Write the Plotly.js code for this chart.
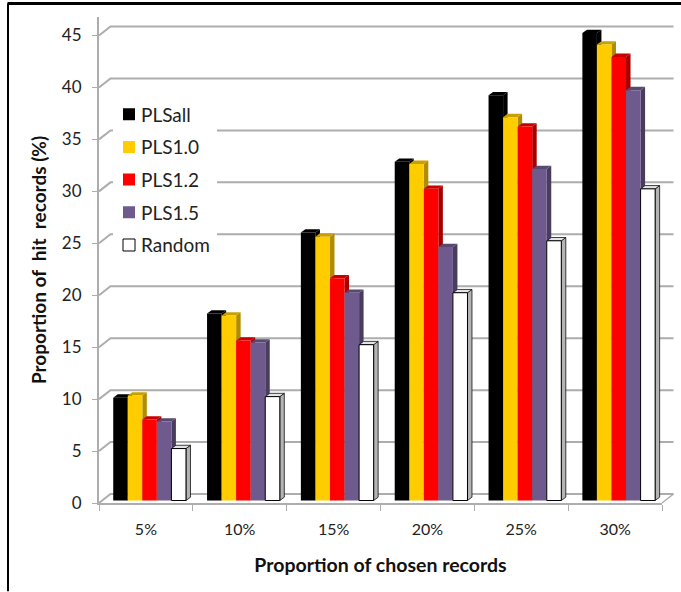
<!DOCTYPE html>
<html>
<head>
<meta charset="utf-8">
<script src="https://cdn.plot.ly/plotly-3.0.1.min.js"></script>
<style>html,body{margin:0;padding:0;background:#fff}</style>
</head>
<body>
<div id="chart" style="width:681px;height:592px"></div>
<script>
// Hit rate of each model at growing proportions of chosen records
const categories = ['5%', '10%', '15%', '20%', '25%', '30%'];
const plsAll = [9.9, 18, 25.8, 32.6, 39, 45];
const pls10 = [10.1, 17.8, 25.4, 32.4, 36.9, 43.9];
const pls12 = [7.8, 15.4, 21.4, 30, 36, 42.7];
const pls15 = [7.6, 15.2, 20, 24.4, 31.9, 39.5];
const random = [5, 10, 15, 20, 25, 30];
const yTicks = [0, 5, 10, 15, 20, 25, 30, 35, 40, 45];

const seriesNames = ['PLSall', 'PLS1.0', 'PLS1.2', 'PLS1.5', 'Random'];
const seriesValues = [plsAll, pls10, pls12, pls15, random];
const frontColors = ['#000000', '#ffcc00', '#ff0000', '#6f5a8e', '#ffffff'];
const topColors = ['#000000', '#c9a000', '#c80000', '#594870', '#e4e4e4'];
const sideColors = ['#000000', '#b08c00', '#a80000', '#4a3c5e', '#b4b4b4'];

// Plot box in page pixels, and the oblique depth of walls and columns
const box = {left: 99, right: 662, top: 16.5, bottom: 503.5};
const pxPerCategory = (box.right - box.left) / categories.length;
const pxPerUnit = 10.41;
const wallDx = 11.5, wallDy = 9;
const columnDx = 4.5 / pxPerCategory, columnDy = 3.3 / pxPerUnit;
const columnBase = 2.5 / pxPerUnit;
const columnWidth = 14.55 / pxPerCategory;
const firstOffset = -32.7 / pxPerCategory;

const px = x => (x - box.left) / (box.right - box.left);
const py = y => (box.bottom - y) / (box.bottom - box.top);
const gridColor = '#adadad';
const shapes = [];

function pagePath(points, color, width) {
  shapes.push({
    type: 'path', xref: 'paper', yref: 'paper', layer: 'below',
    path: 'M' + points.map(p => px(p[0]) + ',' + py(p[1])).join('L'),
    line: {color: color, width: width}
  });
}

// Frame: only the top and left rules are present
pagePath([[7.5, 3], [681, 3]], '#000', 3);
pagePath([[8, 3], [8, 592]], '#000', 2);

// Back wall lines with their slanted run along the side wall
yTicks.forEach(v => {
  const y = box.bottom - v * pxPerUnit;
  pagePath([[box.left, y], [box.left + wallDx, y - wallDy],
            [box.right + wallDx, y - wallDy]], gridColor, 2);
});
// Right edge of the floor
pagePath([[box.right, box.bottom], [box.right + wallDx, box.bottom - wallDy]], gridColor, 1.5);

// Side and top faces of each column, left to right so the fronts cover them
seriesValues.forEach((values, s) => {
  const outline = s === 4 ? {color: '#111', width: 0.8} : {width: 0};
  values.forEach((v, c) => {
    const x0 = c + firstOffset + s * columnWidth;
    const x1 = x0 + columnWidth;
    const y0 = columnBase, y1 = columnBase + v;
    const face = (pts, color) => shapes.push({
      type: 'path', xref: 'x', yref: 'y', layer: 'below',
      path: 'M' + pts.map(p => p[0] + ',' + p[1]).join('L') + 'Z',
      fillcolor: color, line: outline
    });
    face([[x1, y0], [x1 + columnDx, y0 + columnDy], [x1 + columnDx, y1 + columnDy], [x1, y1]], sideColors[s]);
    face([[x0, y1], [x0 + columnDx, y1 + columnDy], [x1 + columnDx, y1 + columnDy], [x1, y1]], topColors[s]);
  });
});

const traces = seriesNames.map((name, s) => ({
  type: 'bar',
  name: name,
  legendgroup: name,
  x: categories,
  y: seriesValues[s],
  base: columnBase,
  width: columnWidth,
  offset: firstOffset + s * columnWidth,
  marker: {
    color: frontColors[s],
    line: s === 4 ? {color: '#000', width: 1} : {width: 0}
  },
  hoverinfo: 'name+y'
}));

const fontFamily = 'Lato, "Open Sans", sans-serif';
const layout = {
  width: 681, height: 592,
  paper_bgcolor: '#fff', plot_bgcolor: 'rgba(0,0,0,0)',
  margin: {l: box.left, r: 681 - box.right, t: box.top, b: 592 - box.bottom, pad: 0},
  barmode: 'overlay',
  font: {family: fontFamily, color: '#222', size: 14},
  showlegend: true,
  legend: {
    x: px(113), y: py(95), xanchor: 'left', yanchor: 'top',
    bgcolor: '#fff', borderwidth: 0,
    tracegroupgap: 5,
    traceorder: 'grouped',
    font: {family: fontFamily, size: 19, color: '#222'}
  },
  xaxis: {
    type: 'category', categoryorder: 'array', categoryarray: categories,
    range: [-0.5, 5.5], tickson: 'boundaries',
    showline: true, linecolor: gridColor, linewidth: 2,
    ticks: 'outside', ticklen: 6, tickcolor: gridColor, tickwidth: 1,
    ticklabelstandoff: 11,
    showgrid: false, zeroline: false,
    tickfont: {size: 16, color: '#222'},
    title: {text: 'Proportion of chosen records', standoff: 21,
            font: {size: 19.5, color: '#111', family: fontFamily, weight: 'bold'}}
  },
  yaxis: {
    range: [0, (box.bottom - box.top) / pxPerUnit],
    tickmode: 'array', tickvals: yTicks, ticktext: yTicks.map(String),
    showline: true, linecolor: gridColor, linewidth: 2,
    ticks: 'outside', ticklen: 5, tickcolor: gridColor, tickwidth: 1,
    ticklabelstandoff: 7,
    showgrid: false, zeroline: false,
    tickfont: {size: 17, color: '#222'},
    title: {text: 'Proportion of  hit  records (%)', standoff: 10,
            font: {size: 19, color: '#111', family: fontFamily, weight: 'bold'}}
  },
  shapes: shapes
};

Plotly.newPlot('chart', traces, layout, {displayModeBar: false, responsive: false}).then(gd => {
  // Tighten the key: swatch sits closer to its label than the default spacing
  gd.querySelectorAll('.legend .legendtext').forEach(t => {
    t.setAttribute('x', Number(t.getAttribute('x')) - 12);
  });
  gd.querySelectorAll('.legend .legendpoints').forEach(g => {
    g.setAttribute('transform', 'translate(-4,0)');
  });
  gd.querySelector('.legend .bg').setAttribute('width', 104);
});
</script>
</body>
</html>
